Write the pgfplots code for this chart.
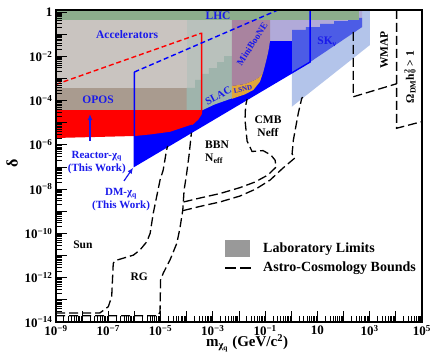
\documentclass[border=0pt]{standalone}
\usepackage{pgfplots}
\pgfplotsset{compat=1.18}
\usetikzlibrary{arrows.meta}
\usepackage{fontspec}
\setmainfont{Liberation Serif}
\definecolor{lhc}{HTML}{8CAD8C}
\definecolor{accgray}{HTML}{C9C4C0}
\definecolor{lteal}{HTML}{B9C1BC}
\definecolor{opos}{HTML}{A99B8F}
\definecolor{slac}{HTML}{9FB4AC}
\definecolor{mini}{HTML}{A9839F}
\definecolor{lsnd}{HTML}{E2A53A}
\definecolor{lav}{HTML}{B1AAD9}
\definecolor{skmed}{HTML}{4C5CE6}
\definecolor{sklight}{HTML}{B3C4EA}
\definecolor{txtblue}{RGB}{25,25,235}
\definecolor{leggray}{HTML}{999999}
\begin{document}
\begin{tikzpicture}[font=\bfseries]
\useasboundingbox (-56pt,-36pt) rectangle (380pt,322pt);
% ---------------- data axis (log10 units) ----------------
\begin{axis}[width=366pt, height=312pt, scale only axis,
  xmin=-9, xmax=5, ymin=-14, ymax=0.09, hide axis, clip=true]
% SK light blue
\addplot[fill=sklight, draw=none] coordinates {(0.02,-4.28) (0.02,0.09) (3.01,0.09) (3.01,-1.49)} -- cycle;
% DM-chi_q region
\addplot[fill=blue, draw=none] coordinates {(-6.0,-2.71) (-6.0,-6.96) (0.72,-2.26) (0.72,0.09) (-0.51,0.09)} -- cycle;
% lavender
\addplot[fill=lav, draw=none] coordinates {(-0.81,0.09) (2.71,0.09) (2.71,-0.68) (0.03,-1.31) (-0.81,-1.31)} -- cycle;
% SK medium
\addplot[fill=skmed, draw=none] coordinates {(0.03,-2.74) (0.72,-2.26) (2.71,-0.68) (2.71,-0.27) (2.17,-0.27) (2.17,-0.41) (1.64,-0.41) (1.64,-0.54) (1.10,-0.54) (1.10,-0.68) (0.56,-0.68) (0.56,-0.81) (0.03,-0.81)} -- cycle;
% Accelerators gray
\addplot[fill=accgray, draw=none] coordinates {(-9,-3.43) (-4,-3.43) (-4,0.09) (-9,0.09)} -- cycle;
\addplot[fill=lteal, draw=none] coordinates {(-4,-3.43) (-2.27,-3.43) (-2.27,0.09) (-4,0.09)} -- cycle;
% OPOS
\addplot[fill=opos, draw=none] coordinates {(-9,-4.43) (-4,-4.43) (-4,-3.43) (-9,-3.43)} -- cycle;
% SLAC
\addplot[fill=slac, draw=none] coordinates {(-4.0,-3.43) (-3.68,-3.43) (-3.68,-3.07) (-3.42,-3.07) (-3.42,-2.80) (-3.15,-2.80) (-3.15,-2.53) (-2.84,-2.53) (-2.84,-2.26) (-2.57,-2.26) (-2.57,-1.99) (-2.27,-1.99) (-2.27,-3.90) (-2.92,-4.17) (-3.43,-4.45) (-4.0,-4.45)} -- cycle;
% Reactor red
\addplot[fill=red, draw=none] coordinates {(-9,-4.43) (-3.43,-4.43) (-3.45,-4.61) (-3.57,-4.83) (-3.80,-5.08) (-4.26,-5.26) (-4.64,-5.41) (-5.40,-5.53) (-5.98,-5.60) (-7.32,-5.64) (-9,-5.69)} -- cycle;
% MiniBooNE
\addplot[fill=mini, draw=none] coordinates {(-2.27,0.09) (-0.81,0.09) (-0.81,-1.27) (-0.85,-1.60) (-0.89,-1.85) (-0.97,-2.25) (-1.07,-2.70) (-1.20,-2.92) (-1.39,-3.07) (-1.77,-3.25) (-2.27,-3.34)} -- cycle;
% LSND
\addplot[fill=lsnd, draw=none] coordinates {(-2.27,-3.34) (-1.77,-3.25) (-1.39,-3.07) (-1.20,-2.92) (-1.07,-2.70) (-1.20,-3.15) (-1.45,-3.52) (-1.77,-3.72) (-2.27,-3.92)} -- cycle;
% LHC
\addplot[fill=lhc, draw=none] coordinates {(-9,-0.38) (2.6,-0.38) (2.6,0.09) (-9,0.09)} -- cycle;
% boundary lines
\addplot[red, line width=1.4pt, dash pattern=on 5pt off 3pt] coordinates {(-9,-3.27) (-3.45,-0.96)};
\addplot[red, line width=1.4pt] coordinates {(-3.45,-0.96) (-3.43,-0.96) (-3.43,-4.43) (-3.45,-4.61) (-3.57,-4.83) (-3.80,-5.08)};
\addplot[blue, line width=1.4pt, dash pattern=on 5pt off 3pt] coordinates {(-6.0,-2.71) (-0.51,0.09)};
\addplot[blue, line width=1.4pt] coordinates {(-6.0,-2.71) (-6.0,-6.96) (0.72,-2.26) (0.72,0.09)};
% astro-cosmology bounds
\addplot[black, line width=1.3pt, dash pattern=on 9pt off 4pt] coordinates {(-9,-13.59) (-7.32,-13.59) (-7.00,-13.31) (-6.87,-12.86) (-6.81,-11.35) (-6.74,-11.23) (-6.04,-10.98) (-5.79,-10.75) (-5.53,-10.38) (-5.40,-10.00) (-5.28,-9.09) (-5.15,-8.34) (-5.02,-7.59) (-4.90,-7.14) (-4.77,-6.23) (-4.73,-6.05)};
\addplot[black, line width=1.3pt, dash pattern=on 9pt off 4pt] coordinates {(-9,-13.72) (-5.10,-13.72) (-5.02,-13.54) (-5.00,-12.10) (-4.90,-11.80) (-4.64,-11.20) (-4.38,-10.45) (-4.26,-9.77) (-4.15,-8.94) (-4.10,-8.04) (-4.01,-7.36) (-3.91,-6.46) (-3.82,-5.45)};
\addplot[black, line width=1.3pt, dash pattern=on 9pt off 4pt] coordinates {(-4.12,-8.58) (-3.49,-8.40) (-2.73,-8.20) (-1.96,-7.93) (-1.39,-7.68) (-0.89,-7.36) (-0.58,-7.00) (-0.62,-6.69) (-0.78,-6.46) (-1.08,-6.26) (-1.50,-6.30) (-1.69,-5.83) (-1.77,-4.88) (-1.75,-4.25) (-1.69,-3.93)};
\addplot[black, line width=1.3pt, dash pattern=on 9pt off 4pt] coordinates {(-4.14,-8.97) (-3.49,-8.78) (-2.73,-8.58) (-1.96,-8.31) (-1.35,-7.99) (-0.81,-7.59) (-0.32,-7.05) (0.14,-6.59) (0.03,-6.41) (0.08,-5.78) (0.27,-4.56) (0.40,-3.90) (0.44,-3.85)};
\addplot[black, line width=1.3pt, dash pattern=on 9pt off 4pt] coordinates {(2.37,-0.90) (2.37,-3.83) (4.03,-3.24)};
\addplot[black, line width=1.3pt, dash pattern=on 9pt off 4pt] coordinates {(4.03,0.09) (4.03,-5.25) (5.0,-4.95)};
% labels
\begin{scope}[every node/.style={font=\fontsize{11.5}{13}\selectfont\bfseries, text=txtblue, inner sep=0pt}]
\node at (axis cs:-2.80,-0.18) {LHC};
\node at (axis cs:-6.28,-1.04) {Accelerators};
\node at (axis cs:-7.39,-3.97) {OPOS};
\node[rotate=28, font=\fontsize{10.5}{12}\selectfont\bfseries] at (axis cs:-2.79,-3.78) {SLAC};
\node[rotate=12, font=\fontsize{7}{8}\selectfont\bfseries] at (axis cs:-1.85,-3.50) {LSND};
\node[rotate=57, font=\fontsize{9.5}{11}\selectfont\bfseries] at (axis cs:-1.50,-1.45) {MiniBooNE};
\node at (axis cs:1.37,-1.36) {SK\textsubscript{ν}};
\node[align=center, font=\fontsize{11}{13}\selectfont\bfseries] at (axis cs:-7.44,-6.78) {Reactor-χ\textsubscript{q}\\(This Work)};
\node[align=center, font=\fontsize{11}{13}\selectfont\bfseries] at (axis cs:-6.51,-8.49) {DM-χ\textsubscript{q}\\(This Work)};
\end{scope}
\draw[txtblue, line width=1.2pt, -{Latex[length=6pt,width=5pt]}] (axis cs:-7.70,-5.83) -- (axis cs:-7.70,-4.61);
\draw[txtblue, line width=1.2pt, -{Latex[length=6pt,width=5pt]}] (axis cs:-6.40,-7.63) -- (axis cs:-6.05,-7.03);
\begin{scope}[every node/.style={font=\fontsize{11.5}{13}\selectfont\bfseries, text=black, inner sep=0pt}]
\node[align=left, anchor=west] at (axis cs:-3.30,-6.32) {BBN\\N\textsubscript{eff}};
\node[align=center] at (axis cs:-0.89,-5.14) {CMB\\Neff};
\node[rotate=90] at (axis cs:3.55,-1.72) {WMAP};
\node[rotate=90] at (axis cs:4.54,-2.94) {Ω\textsubscript{DM}h\rlap{\textsuperscript{2}}\textsubscript{0} > 1};
\node at (axis cs:-7.97,-10.52) {Sun};
\node at (axis cs:-5.82,-11.97) {RG};
\end{scope}
% legend
\fill[leggray] (axis cs:-2.535,-10.298) rectangle (axis cs:-1.578,-11.066);
\draw[black, line width=1.5pt, dash pattern=on 11pt off 4pt] (axis cs:-2.535,-11.563) -- (axis cs:-1.464,-11.563);
\node[anchor=west, inner sep=0pt, font=\fontsize{14}{16}\selectfont\bfseries] at (axis cs:-1.081,-10.70) {Laboratory Limits};
\node[anchor=west, inner sep=0pt, font=\fontsize{14}{16}\selectfont\bfseries] at (axis cs:-1.081,-11.56) {Astro-Cosmology Bounds};
\end{axis}
% ---------------- frame / ticks axis ----------------
\begin{axis}[width=366pt, height=312pt, scale only axis,
  xmode=log, ymode=log, xmin=1e-9, xmax=1e5, ymin=1e-14, ymax=1.23,
  xtickten={-9,-8,...,5}, ytickten={-14,-13,...,0},
  xticklabels={10\textsuperscript{−9},{},10\textsuperscript{−7},{},10\textsuperscript{−5},{},10\textsuperscript{−3},{},10\textsuperscript{−1},{},10,{},10\textsuperscript{3},{},10\textsuperscript{5}},
  yticklabels={10\textsuperscript{−14},{},10\textsuperscript{−12},{},10\textsuperscript{−10},{},10\textsuperscript{−8},{},10\textsuperscript{−6},{},10\textsuperscript{−4},{},10\textsuperscript{−2},{},1},
  tick align=inside, tick pos=left,
  major tick length=11pt, minor tick length=6pt,
  every tick/.style={black, line width=0.8pt},
  axis line style={line width=1.2pt},
  tick label style={font=\fontsize{13}{15}\selectfont\bfseries},
  xlabel={m\textsubscript{χ\textsubscript{q}} (GeV/c\textsuperscript{2})},
  ylabel={δ},
  xlabel style={at={(axis description cs:0.522,-0.067)}, anchor=center, font=\fontsize{15}{17}\selectfont\bfseries},
  ylabel style={at={(axis description cs:-0.12,0.51)}, anchor=center, font=\fontsize{16}{18}\selectfont\bfseries},
]
\end{axis}
\end{tikzpicture}
\end{document}
